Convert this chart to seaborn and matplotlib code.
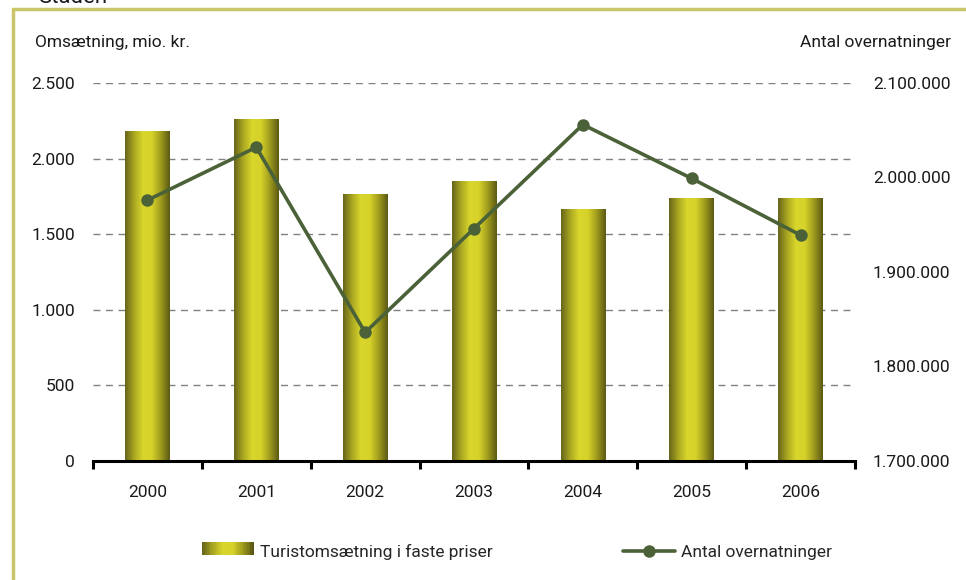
import numpy as np
import pandas as pd
import seaborn as sns
import matplotlib.pyplot as plt
from matplotlib.colors import LinearSegmentedColormap
from matplotlib.lines import Line2D
from matplotlib.patches import Rectangle
from matplotlib.legend_handler import HandlerBase
from matplotlib.ticker import FuncFormatter, MultipleLocator

# Data
years = ['2000', '2001', '2002', '2003', '2004', '2005', '2006']
omsaetning = [2180, 2260, 1765, 1850, 1665, 1735, 1735]          # mio. kr.
overnatninger = [1976000, 2032000, 1836000, 1946000, 2056000, 1999000, 1939000]

bar_label = 'Turistomsætning i faste priser'
line_label = 'Antal overnatninger'

sns.set_theme(style='white')
plt.rcParams['font.family'] = ['Roboto', 'DejaVu Sans']

# gradient for bars: dark olive edges, bright yellow middle
bar_cmap = LinearSegmentedColormap.from_list(
    'olive', ['#66641a', '#a9a622', '#d9d62c', '#d6d22a', '#9f9b1e', '#5a5814'])
line_col = '#4b6238'

fig = plt.figure(figsize=(9.66, 5.8), dpi=100)
ax = fig.add_axes([93 / 966, 1 - 461 / 580, (855 - 93) / 966, (461 - 83) / 580])

df = pd.DataFrame({'year': years, 'oms': omsaetning})
sns.barplot(data=df, x='year', y='oms', ax=ax, width=0.41, color='#c8c42a', zorder=2)

# swap each flat bar for a horizontal gradient
grad = np.linspace(0, 1, 256).reshape(1, -1)
for p in list(ax.patches):
    x0, y0 = p.get_x(), p.get_y()
    w, h = p.get_width(), p.get_height()
    ax.imshow(grad, extent=[x0, x0 + w, y0, y0 + h], aspect='auto',
              cmap=bar_cmap, zorder=2, interpolation='bilinear')
    p.set_visible(False)

ax.set_xlim(-0.5, 6.5)
ax.set_ylim(0, 2500)
ax.yaxis.set_major_locator(MultipleLocator(500))
ax.yaxis.set_major_formatter(FuncFormatter(lambda v, _: f'{int(v):,}'.replace(',', '.')))
ax.set_xlabel('')
ax.set_ylabel('')
ax.grid(axis='y', color='#808080', linestyle=(0, (5, 4)), linewidth=1)
ax.set_axisbelow(True)
for s in ['top', 'right', 'left']:
    ax.spines[s].set_visible(False)
ax.spines['bottom'].set_color('black')
ax.spines['bottom'].set_linewidth(2.2)
ax.spines['bottom'].set_zorder(5)
ax.set_xticks(np.arange(-0.5, 7, 1), minor=True)
ax.tick_params(axis='x', which='major', bottom=False, length=0, pad=17,
               labelsize=12.5, colors='#1a1a1a')
ax.tick_params(axis='x', which='minor', bottom=True, length=6, width=2.2,
               direction='out', color='black')
ax.tick_params(axis='y', length=0, pad=13, labelsize=12.5, colors='#1a1a1a')

# right axis: overnatninger
ax2 = ax.twinx()
sns.lineplot(x=np.arange(len(years)), y=overnatninger, ax=ax2, color=line_col,
             linewidth=2.6, marker='o', markersize=9, markeredgewidth=0, zorder=4)
ax2.set_ylim(1700000, 2100000)
ax2.yaxis.set_major_locator(MultipleLocator(100000))
ax2.yaxis.set_major_formatter(FuncFormatter(lambda v, _: f'{int(v):,}'.replace(',', '.')))
ax2.tick_params(axis='y', length=0, pad=13, labelsize=12.5, colors='#1a1a1a')
ax2.tick_params(axis='x', which='both', bottom=False, top=False)
for s in ['top', 'right', 'left', 'bottom']:
    ax2.spines[s].set_visible(False)
ax2.grid(False)

# axis titles
fig.text(35 / 966, 1 - 43 / 580, 'Omsætning, mio. kr.', fontsize=12.5, va='center',
         ha='left', color='#1a1a1a')
fig.text(951 / 966, 1 - 43 / 580, 'Antal overnatninger', fontsize=12.5, va='center',
         ha='right', color='#1a1a1a')
fig.text(38 / 966, 1.005, 'Staden', fontsize=16, va='center', ha='left', color='#1a1a1a')

# frame around chart
fig.patches.append(Rectangle((13 / 966, -0.05), 1.0, 1 - 9 / 580 + 0.05,
                             transform=fig.transFigure, fill=False,
                             edgecolor='#cbc56a', linewidth=2.5))


# legend with gradient swatch
class GradientHandler(HandlerBase):
    def create_artists(self, legend, orig, xd, yd, width, height, fontsize, trans):
        n = 30
        arts = []
        for i in range(n):
            r = Rectangle((xd + width * i / n, yd + height * 0.05), width / n + 0.3,
                          height * 0.9, facecolor=bar_cmap(i / (n - 1)),
                          edgecolor='none', transform=trans)
            arts.append(r)
        return arts


bar_handle = Rectangle((0, 0), 1, 1)
line_handle = Line2D([], [], color=line_col, linewidth=2.6, marker='o',
                     markersize=9, markeredgewidth=0)
fig.legend([bar_handle, line_handle], [bar_label, line_label],
           handler_map={Rectangle: GradientHandler()},
           loc='center', bbox_to_anchor=(0.535, 1 - 552 / 580), ncol=2,
           frameon=False, fontsize=12.5, handlelength=3.0, handleheight=0.9,
           handletextpad=0.35, columnspacing=7.5)

fig.savefig('out.png', dpi=100)
